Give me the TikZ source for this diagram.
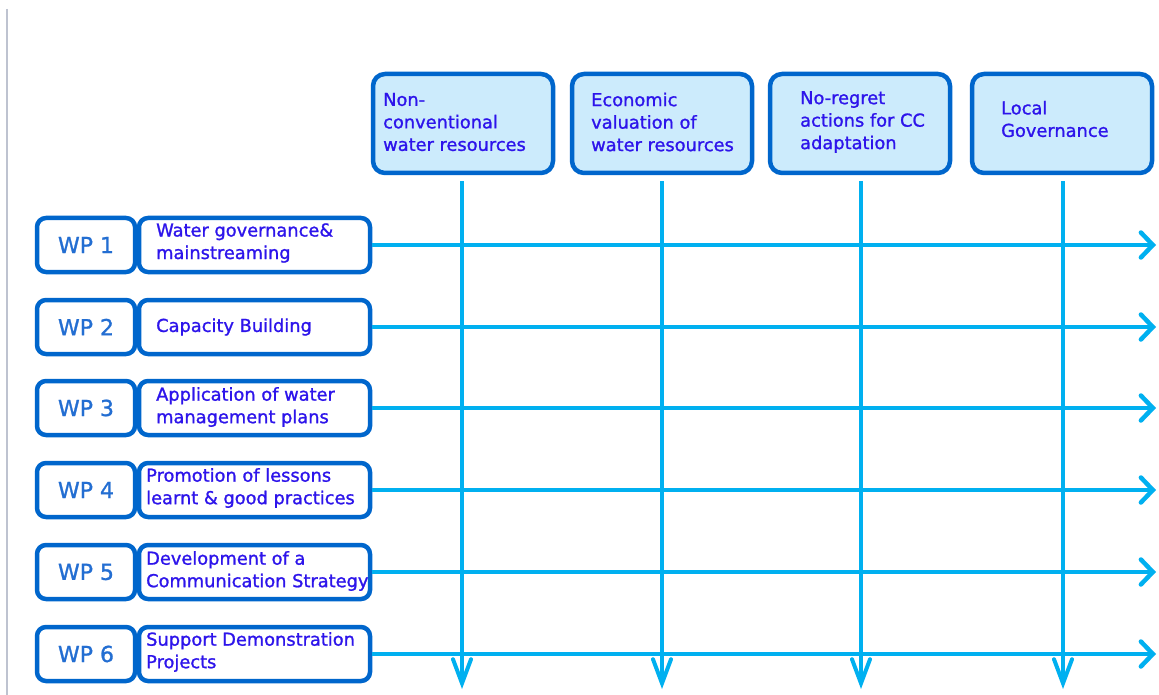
\documentclass[tikz,border=0pt]{standalone}
\usepackage{fontspec}
\setmainfont{DejaVu Sans}[RawFeature={embolden=1.2}]
\usetikzlibrary{arrows.meta}
\definecolor{boxblue}{RGB}{0,102,204}
\definecolor{topfill}{RGB}{204,235,252}
\definecolor{arrowcyan}{RGB}{0,176,240}
\definecolor{txtblue}{RGB}{45,20,235}
\definecolor{wpblue}{RGB}{35,110,210}
\definecolor{edgegray}{RGB}{190,195,208}
\tikzset{
  topbox/.style={draw=boxblue, line width=4.5pt, fill=topfill, rounded corners=12pt,
    minimum width=180pt, minimum height=99pt, inner sep=0pt},
  wpbox/.style={draw=boxblue, line width=4.5pt, fill=white, rounded corners=9pt,
    minimum width=98pt, minimum height=54pt, inner sep=0pt,
    font=\fontsize{22}{26}\selectfont, text=wpblue},
  descbox/.style={draw=boxblue, line width=4.5pt, fill=white, rounded corners=9pt,
    minimum width=231pt, minimum height=54pt, inner sep=0pt},
  lbl/.style={anchor=west, align=left, inner sep=0pt, text=txtblue,
    font=\fontsize{17.8}{22.5}\selectfont},
  vflow/.style={draw=arrowcyan, line width=4pt, -{Straight Barb[length=24pt,width=18pt,line cap=round]}},
  hflow/.style={draw=arrowcyan, line width=4.5pt, -{Straight Barb[length=12pt,width=25pt,line cap=round]}}
}
\begin{document}
\begin{tikzpicture}[x=1pt,y=-1pt]
\useasboundingbox (0,0) rectangle (1159,695);
\fill[white] (0,0) rectangle (1159,695);
\draw[edgegray, line width=2pt] (7,9) -- (7,695);

% top boxes
\node[topbox] (t1) at (463,123.5) {};
\node[topbox] (t2) at (662,123.5) {};
\node[topbox] (t3) at (860,123.5) {};
\node[topbox] (t4) at (1062,123.5) {};
\node[lbl] (t1l) at (383,122) {Non-\\conventional\\water resources};
\node[lbl] (t2l) at (591,122) {Economic\\valuation of\\water resources};
\node[lbl] (t3l) at (800,122) {No-regret\\actions for CC\\adaptation};
\node[lbl] (t4l) at (1001,119) {Local\\Governance};

% bottom end points of vertical arrows
\coordinate (b1) at (462,689);
\coordinate (b2) at (662,689);
\coordinate (b3) at (861,689);
\coordinate (b4) at (1063,689);
\draw[vflow] ([xshift=-1pt,yshift=-6pt]t1.south) -- (b1);
\draw[vflow] ([yshift=-6pt]t2.south) -- (b2);
\draw[vflow] ([xshift=1pt,yshift=-6pt]t3.south) -- (b3);
\draw[vflow] ([xshift=1pt,yshift=-6pt]t4.south) -- (b4);

% WP rows
\foreach \i/\y in {1/245,2/327,3/408,4/490,5/572,6/654}{
  \node[wpbox] (wp\i) at (86,\y) {WP \i};
  \node[descbox] (d\i) at (254.5,\y) {};
  \coordinate (e\i) at (1156,\y);
}
\node[lbl] (d1l) at (156,243) {Water governance\&\\mainstreaming};
\node[lbl] (d2l) at (156,327) {Capacity Building};
\node[lbl] (d3l) at (156,407) {Application of water\\management plans};
\node[lbl] (d4l) at (146,488) {Promotion of lessons\\learnt \& good practices};
\node[lbl] (d5l) at (146,571) {Development of a\\Communication Strategy};
\node[lbl] (d6l) at (146,652) {Support Demonstration\\Projects};

\foreach \i in {1,...,6}{
  \draw[hflow] (d\i.east) -- (e\i);
}
\end{tikzpicture}
\end{document}
